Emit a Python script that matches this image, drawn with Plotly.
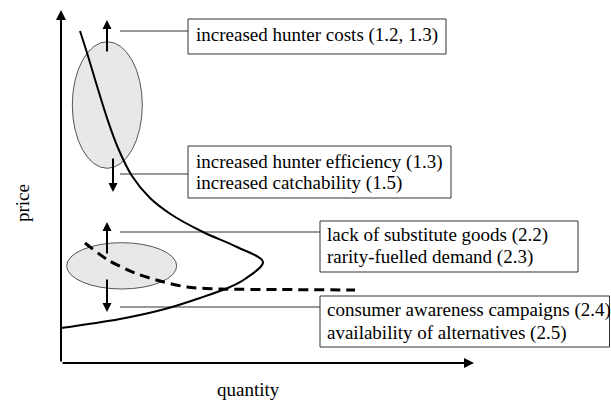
import plotly.graph_objects as go

# ---- data (quantity, price) in chart units ----
supply_q = [19, 27, 36, 46, 57, 71, 89, 111, 142, 176, 202, 184, 169, 139, 104, 59, 0]
supply_p = [332, 307, 277, 245, 215, 187, 165, 148, 131, 116, 101, 84, 76, 65, 54, 44, 35]

demand_q = [24, 47, 74, 99, 126, 159, 219, 294]
demand_p = [120, 103, 90, 82, 76, 74, 73.5, 73]

box_lines = [
    ["increased hunter costs (1.2, 1.3)"],
    ["increased hunter efficiency (1.3)", "increased catchability (1.5)"],
    ["lack of substitute goods (2.2)", "rarity-fuelled demand (2.3)"],
    ["consumer awareness campaigns (2.4)", "availability of alternatives (2.5)"],
]
x_label = "quantity"
y_label = "price"

FONT = "Liberation Serif"

fig = go.Figure()
fig.add_trace(go.Scatter(x=supply_q, y=supply_p, mode="lines",
                         line=dict(color="black", width=2, shape="spline", smoothing=1),
                         hoverinfo="skip"))
fig.add_trace(go.Scatter(x=demand_q, y=demand_p, mode="lines",
                         line=dict(color="black", width=3, shape="spline", smoothing=0.8, dash="10px,6px"),
                         hoverinfo="skip"))

shapes = []
# ellipses
shapes.append(dict(type="circle", xref="x", yref="y", x0=11.3, x1=81.3, y0=194.7, y1=321.3,
                   fillcolor="#e8e8e8", line=dict(color="#555555", width=1), layer="below"))
shapes.append(dict(type="circle", xref="x", yref="y", x0=5.7, x1=115.7, y0=74, y1=120.3,
                   fillcolor="#e8e8e8", line=dict(color="#555555", width=1), layer="below"))
# boxes
boxes = [(127, 385, 309, 344), (127, 390, 165, 217), (259, 517, 91, 142), (259, 548.5, 16, 67)]
for x0, x1, y0, y1 in boxes:
    shapes.append(dict(type="rect", xref="x", yref="y", x0=x0, x1=x1, y0=y0, y1=y1,
                       line=dict(color="#333333", width=1), fillcolor="rgba(0,0,0,0)", layer="below"))
# connectors
for y, x1 in [(332, 127), (189, 127), (131, 259), (56, 259)]:
    shapes.append(dict(type="line", xref="x", yref="y", x0=59, x1=x1, y0=y, y1=y,
                       line=dict(color="#333333", width=1), layer="below"))

ann = []
def arrow(xt, yt, xs, ys, w=2, size=1.0):
    ann.append(dict(x=xt, y=yt, ax=xs, ay=ys, xref="x", yref="y", axref="x", ayref="y",
                    text="", showarrow=True, arrowhead=2, arrowwidth=w, arrowsize=size,
                    arrowcolor="black"))

# axes
arrow(0, 353, 0, 0, 2, 1.0)
arrow(413, 0, 0, 0, 2, 1.0)
# shift arrows
arrow(46, 343, 46, 310, 2, 0.9)
arrow(52, 171, 52, 206, 2, 0.9)
arrow(46, 141, 46, 108, 2, 0.9)
arrow(46, 51, 46, 85, 2, 0.9)

text_pos = [(134, [328]), (134, [201, 180]), (265, [128, 106]), (265, [53, 30])]
for lines, (tx, ys) in zip(box_lines, text_pos):
    for line, ty in zip(lines, ys):
        ann.append(dict(x=tx, y=ty, xref="x", yref="y", text=line, showarrow=False,
                        xanchor="left", yanchor="middle", borderpad=0,
                        font=dict(family=FONT, size=19, color="black")))

ann.append(dict(x=187, y=0, xref="x", yref="paper", text=x_label, showarrow=False,
                yanchor="bottom", borderpad=0, yshift=-1,
                font=dict(family=FONT, size=19, color="black")))
ann.append(dict(x=-39, y=160, xref="x", yref="y", text=y_label, showarrow=False, textangle=-90,
                font=dict(family=FONT, size=19, color="black")))

fig.update_layout(
    width=611, height=400,
    margin=dict(l=0, r=0, t=0, b=0),
    paper_bgcolor="white", plot_bgcolor="white",
    showlegend=False,
    shapes=shapes, annotations=ann,
    xaxis=dict(range=[-61, 550], visible=False, fixedrange=True),
    yaxis=dict(range=[-37, 363], visible=False, fixedrange=True),
)

fig.write_html("out.html", config={"displayModeBar": False},
               post_script="document.body.style.margin='0';document.body.style.overflow='hidden';")
